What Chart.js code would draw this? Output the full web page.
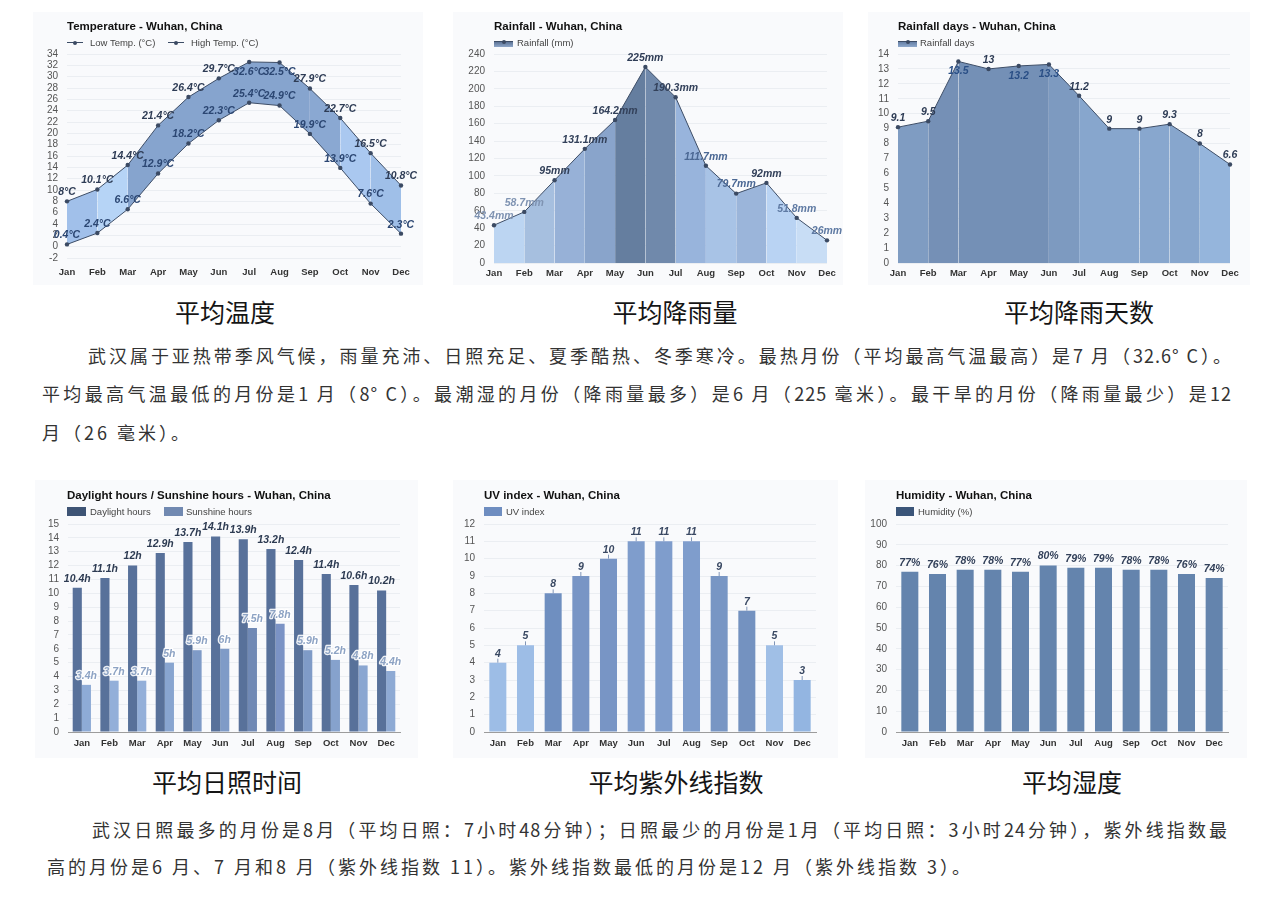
<!DOCTYPE html>
<html>
<head>
<meta charset="utf-8">
<script src="https://cdn.jsdelivr.net/npm/chart.js@4.4.0/dist/chart.umd.min.js"></script>
<style>
  body { margin: 0; background: #fff; width: 1280px; height: 905px; position: relative; overflow: hidden;
         font-family: "Liberation Sans", Arial, sans-serif; }
  .panel { position: absolute; background: #f9fafc; }
  .panel canvas { position: absolute; left: 0; top: 0; }
  .ttl { position: absolute; font-weight: bold; font-size: 11.5px; line-height: 14px; color: #111; white-space: nowrap; z-index: 2; }
  .lgt { position: absolute; font-size: 9.5px; line-height: 12px; color: #444; white-space: nowrap; z-index: 2; }
  .sw { position: absolute; z-index: 2; }
  .dot { position: absolute; width: 4px; height: 4px; border-radius: 50%; background: #3b4a63; z-index: 3; }
  .cap { position: absolute; font-family: "Noto Sans CJK SC", sans-serif; font-size: 25px; line-height: 30px;
         color: #151515; white-space: nowrap; transform: translateX(-50%); font-weight: 400; }
  .ln { position: absolute; font-family: "Noto Sans CJK SC", sans-serif; font-size: 18px; line-height: 24px;
        color: #333; white-space: nowrap; letter-spacing: 3px; }
  .just { text-align: justify; text-align-last: justify; white-space: normal; letter-spacing: 1px; }
</style>
</head>
<body>

<!-- top row -->
<div class="panel" style="left:33px;top:12px;width:390px;height:273px"><canvas id="temp" width="390" height="273"></canvas></div>
<div class="panel" style="left:453px;top:12px;width:390px;height:273px"><canvas id="rain" width="390" height="273"></canvas></div>
<div class="panel" style="left:868px;top:12px;width:382px;height:273px"><canvas id="days" width="382" height="273"></canvas></div>

<div class="ttl" style="left:67px;top:19px">Temperature - Wuhan, China</div>
<div class="sw" style="left:67px;top:42px;width:16px;height:1px;background:#3d4d66"></div>
<div class="dot" style="left:73px;top:40.5px"></div>
<div class="lgt" style="left:90px;top:37px">Low Temp. (°C)</div>
<div class="sw" style="left:168px;top:42px;width:16px;height:1px;background:#3d4d66"></div>
<div class="dot" style="left:174px;top:40.5px"></div>
<div class="lgt" style="left:191px;top:37px">High Temp. (°C)</div>

<div class="ttl" style="left:494px;top:19px">Rainfall - Wuhan, China</div>
<div class="sw" style="left:494px;top:41px;width:19px;height:5px;background:linear-gradient(#5d7497,#8ea6c8);border-top:1px solid #3d4d66"></div>
<div class="dot" style="left:501.5px;top:39.5px"></div>
<div class="lgt" style="left:517px;top:37px">Rainfall (mm)</div>

<div class="ttl" style="left:898px;top:19px">Rainfall days - Wuhan, China</div>
<div class="sw" style="left:898px;top:41px;width:19px;height:5px;background:linear-gradient(#6680a6,#8fa9cc);border-top:1px solid #3d4d66"></div>
<div class="dot" style="left:905.5px;top:39.5px"></div>
<div class="lgt" style="left:920px;top:37px">Rainfall days</div>

<div class="cap" style="left:225px;top:296px">平均温度</div>
<div class="cap" style="left:675px;top:296px">平均降雨量</div>
<div class="cap" style="left:1079px;top:296px">平均降雨天数</div>

<div class="ln just" style="left:88px;top:343px;width:1144px">武汉属于亚热带季风气候，雨量充沛、日照充足、夏季酷热、冬季寒冷。最热月份（平均最高气温最高）是7 月（32.6° C）。</div>
<div class="ln just" style="left:42px;top:381px;width:1190px">平均最高气温最低的月份是1 月（8° C）。最潮湿的月份（降雨量最多）是6 月（225 毫米）。最干旱的月份（降雨量最少）是12</div>
<div class="ln" style="left:42px;top:420px">月（26 毫米）。</div>

<!-- bottom row -->
<div class="panel" style="left:35px;top:480px;width:383px;height:278px"><canvas id="sun" width="383" height="278"></canvas></div>
<div class="panel" style="left:453px;top:480px;width:385px;height:278px"><canvas id="uv" width="385" height="278"></canvas></div>
<div class="panel" style="left:865px;top:480px;width:382px;height:278px"><canvas id="hum" width="382" height="278"></canvas></div>

<div class="ttl" style="left:67px;top:488px">Daylight hours / Sunshine hours - Wuhan, China</div>
<div class="sw" style="left:67px;top:507px;width:19px;height:9px;background:#3e5475"></div>
<div class="lgt" style="left:90px;top:506px">Daylight hours</div>
<div class="sw" style="left:164px;top:507px;width:19px;height:9px;background:#7189b1"></div>
<div class="lgt" style="left:186px;top:506px">Sunshine hours</div>

<div class="ttl" style="left:484px;top:488px">UV index - Wuhan, China</div>
<div class="sw" style="left:484px;top:507px;width:18px;height:9px;background:#6e8dc0"></div>
<div class="lgt" style="left:506px;top:506px">UV index</div>

<div class="ttl" style="left:896px;top:488px">Humidity - Wuhan, China</div>
<div class="sw" style="left:896px;top:507px;width:18px;height:9px;background:#3b5579"></div>
<div class="lgt" style="left:918px;top:506px">Humidity (%)</div>

<div class="cap" style="left:227px;top:766px">平均日照时间</div>
<div class="cap" style="left:676px;top:766px">平均紫外线指数</div>
<div class="cap" style="left:1072px;top:766px">平均湿度</div>

<div class="ln just" style="left:92px;top:817px;width:1136px">武汉日照最多的月份是8月（平均日照：7小时48分钟）；日照最少的月份是1月（平均日照：3小时24分钟），紫外线指数最</div>
<div class="ln" style="left:47px;top:854px">高的月份是6 月、7 月和8 月（紫外线指数 11）。紫外线指数最低的月份是12 月（紫外线指数 3）。</div>

<script>
// monthly climate data, Wuhan
const months = ['Jan', 'Feb', 'Mar', 'Apr', 'May', 'Jun', 'Jul', 'Aug', 'Sep', 'Oct', 'Nov', 'Dec'];
const lowTemp = [0.4, 2.4, 6.6, 12.9, 18.2, 22.3, 25.4, 24.9, 19.9, 13.9, 7.6, 2.3];
const highTemp = [8, 10.1, 14.4, 21.4, 26.4, 29.7, 32.6, 32.5, 27.9, 22.7, 16.5, 10.8];
const rainfall = [43.4, 58.7, 95, 131.1, 164.2, 225, 190.3, 111.7, 79.7, 92, 51.8, 26];
const rainDays = [9.1, 9.5, 13.5, 13, 13.2, 13.3, 11.2, 9, 9, 9.3, 8, 6.6];
const daylight = [10.4, 11.1, 12, 12.9, 13.7, 14.1, 13.9, 13.2, 12.4, 11.4, 10.6, 10.2];
const sunshine = [3.4, 3.7, 3.7, 5, 5.9, 6, 7.5, 7.8, 5.9, 5.2, 4.8, 4.4];
const uvIndex = [4, 5, 8, 9, 10, 11, 11, 11, 9, 7, 5, 3];
const humidity = [77, 76, 78, 78, 77, 80, 79, 79, 78, 78, 76, 74];

// colours (kept apart from the values)
const tempFill = ['#a1c0ea', '#b6d4f6', '#86a4ce', '#86a4ce', '#86a4ce', '#86a4ce', '#86a4ce', '#86a4ce', '#8aa8d2', '#aac8f0', '#9fbfe8'];
const rainFill = ['#bcd5f2', '#a6bfdf', '#97b1d7', '#89a4cb', '#657e9f', '#7089ab', '#98b4dc', '#a8c3e6', '#9bb5da', '#b9d3f3', '#c8ddf5'];
const daysFill = ['#7f9cc2', '#7590b6', '#7490b6', '#7490b6', '#7490b6', '#7d9ac0', '#87a6cd', '#87a6cd', '#88a7ce', '#87a6cd', '#95b5dc'];
const sunColors = ['#8eabd6', '#93afd9', '#93afd9', '#88a5d0', '#7f9bc7', '#7f9bc7', '#7089b5', '#7b93c5', '#7f9bc7', '#86a2cd', '#8aa6d1', '#8eaad4'];
const uvColors = ['#9dbde6', '#9dbde6', '#6f8fc0', '#7895c5', '#7895c5', '#7f9dcc', '#7f9dcc', '#7f9dcc', '#7896c4', '#7492c0', '#a0bfe6', '#93b5e1'];
const rainLabelColors = ['#7f93b2', '#7f93b2', '#33415a', '#33415a', '#33415a', '#2f3d56', '#33415a', '#4b6894', '#4b6894', '#33415a', '#5f7aa3', '#5f7aa3'];

const FONT = '"Liberation Sans", Arial, sans-serif';

// draws the value above each point / bar
const valueLabels = {
  id: 'valueLabels',
  afterDatasetsDraw(chart, args, opts) {
    const { ctx, chartArea } = chart;
    (opts.sets || []).forEach((set, i) => {
      if (!set) return;
      const meta = chart.getDatasetMeta(i);
      const values = chart.data.datasets[i].data;
      meta.data.forEach((el, j) => {
        const text = values[j] + set.suffix;
        let y = el.y - 9;
        let col = Array.isArray(set.color) ? set.color[j] : set.color;
        if (set.flip && el.y - chartArea.top < 12.5) {
          y = el.y + 10;
          col = set.flipColor || col;
        }
        ctx.save();
        if (set.tick) {
          ctx.strokeStyle = '#8196b8';
          ctx.lineWidth = 1;
          ctx.beginPath();
          ctx.moveTo(el.x, el.y);
          ctx.lineTo(el.x, el.y - 4);
          ctx.stroke();
        }
        ctx.font = 'italic bold 10.5px ' + FONT;
        ctx.textAlign = 'center';
        ctx.textBaseline = 'middle';
        if (set.halo) {
          ctx.lineWidth = 2.5;
          ctx.strokeStyle = set.halo;
          ctx.lineJoin = 'round';
          ctx.strokeText(text, el.x, y);
        }
        ctx.fillStyle = col;
        ctx.fillText(text, el.x, y);
        ctx.restore();
      });
    });
  }
};

function axes(c) {
  return {
    x: {
      offset: c.offset,
      grid: { display: false, drawTicks: false },
      border: { display: c.baseline, color: '#9c9c9c' },
      ticks: { color: '#333', padding: c.xPad, maxRotation: 0, autoSkip: false,
               font: { family: FONT, size: 9.5, weight: 'bold' } },
      afterFit: s => { s.height = c.xH; }
    },
    y: {
      min: c.min,
      max: c.max,
      grid: { color: 'rgba(60,80,110,0.07)', drawTicks: false },
      border: { display: false },
      ticks: { stepSize: c.step, autoSkip: false, color: '#555', padding: 9, font: { family: FONT, size: 10 } },
      afterFit: s => { s.width = c.yW; }
    }
  };
}

function opts(c, sets) {
  return {
    responsive: false,
    animation: false,
    layout: { padding: { top: c.padTop, right: c.padRight, bottom: 0, left: 0 } },
    plugins: { legend: { display: false }, tooltip: { enabled: false }, valueLabels: { sets: sets } },
    scales: axes(c)
  };
}

function lineSet(data, fill, colors) {
  return {
    data: data,
    borderColor: '#3d4d66',
    borderWidth: 1,
    pointRadius: 2.2,
    pointBorderWidth: 0,
    pointBackgroundColor: '#3b4a63',
    tension: 0,
    fill: fill,
    backgroundColor: colors ? colors[0] : 'transparent',
    segment: colors ? { backgroundColor: s => colors[s.p0DataIndex] } : undefined
  };
}

// temperature
new Chart(document.getElementById('temp'), {
  type: 'line',
  data: { labels: months, datasets: [lineSet(lowTemp, false), lineSet(highTemp, '-1', tempFill)] },
  options: opts({ offset: false, baseline: false, xPad: 9, xH: 27, min: -2, max: 34, step: 2, yW: 34, padTop: 42, padRight: 22 },
    [{ suffix: '°C', color: '#2b4672', flip: true },
     { suffix: '°C', color: '#2e3c55', flip: true, flipColor: '#2b4672' }]),
  plugins: [valueLabels]
});

// rainfall
new Chart(document.getElementById('rain'), {
  type: 'line',
  data: { labels: months, datasets: [lineSet(rainfall, 'origin', rainFill)] },
  options: opts({ offset: false, baseline: false, xPad: 5, xH: 22, min: 0, max: 240, step: 20, yW: 41, padTop: 42, padRight: 16 },
    [{ suffix: 'mm', color: rainLabelColors, flip: true }]),
  plugins: [valueLabels]
});

// rainfall days
new Chart(document.getElementById('days'), {
  type: 'line',
  data: { labels: months, datasets: [lineSet(rainDays, 'origin', daysFill)] },
  options: opts({ offset: false, baseline: false, xPad: 5, xH: 22, min: 0, max: 14, step: 1, yW: 30, padTop: 42, padRight: 20 },
    [{ suffix: '', color: '#2e3c55', flip: true, flipColor: '#2a4f86' }]),
  plugins: [valueLabels]
});

// daylight / sunshine
new Chart(document.getElementById('sun'), {
  type: 'bar',
  data: {
    labels: months,
    datasets: [
      { data: daylight, backgroundColor: '#58719a', categoryPercentage: 0.66, barPercentage: 1 },
      { data: sunshine, backgroundColor: sunColors, categoryPercentage: 0.66, barPercentage: 1 }
    ]
  },
  options: opts({ offset: true, baseline: true, xPad: 6, xH: 26, min: 0, max: 15, step: 1, yW: 33, padTop: 44, padRight: 18 },
    [{ suffix: 'h', color: '#2d3b52' },
     { suffix: 'h', color: '#8da3c4', halo: 'rgba(255,255,255,0.9)' }]),
  plugins: [valueLabels]
});

// uv index
new Chart(document.getElementById('uv'), {
  type: 'bar',
  data: { labels: months, datasets: [{ data: uvIndex, backgroundColor: uvColors, categoryPercentage: 0.615, barPercentage: 1 }] },
  options: opts({ offset: true, baseline: true, xPad: 6, xH: 26, min: 0, max: 12, step: 1, yW: 31, padTop: 44, padRight: 22 },
    [{ suffix: '', color: '#3a4963', tick: true }]),
  plugins: [valueLabels]
});

// humidity
new Chart(document.getElementById('hum'), {
  type: 'bar',
  data: { labels: months, datasets: [{ data: humidity, backgroundColor: '#6484ad', categoryPercentage: 0.615, barPercentage: 1 }] },
  options: opts({ offset: true, baseline: true, xPad: 6, xH: 26, min: 0, max: 100, step: 10, yW: 31, padTop: 44, padRight: 19 },
    [{ suffix: '%', color: '#33415a' }]),
  plugins: [valueLabels]
});
</script>
</body>
</html>
